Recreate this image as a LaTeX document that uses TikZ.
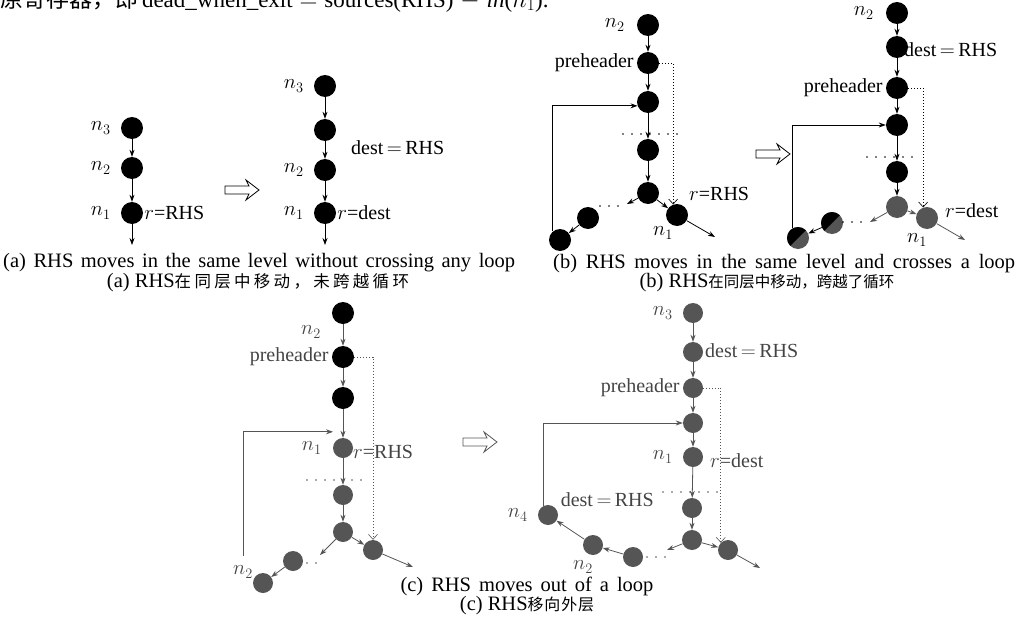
\documentclass[tikz,border=0pt]{standalone}
\usepackage{fontspec}
\setmainfont{Liberation Serif}
\newfontfamily\cjk{Noto Sans CJK SC}
\usepackage{xcolor}
\usetikzlibrary{positioning,arrows.meta,calc}
\definecolor{cGray}{HTML}{555555}
\definecolor{cText}{HTML}{444444}
\newcommand{\lbfont}{\fontsize{20}{23}\selectfont}
\newcommand{\capfont}{\fontsize{20.5}{24}\selectfont}
% chinese caption text, size #1, spacing #2
\newcommand{\zhcap}[3]{{\cjk\fontsize{#1}{18}\selectfont\addfontfeature{LetterSpace=#2}#3}}
% hollow "moves to" arrow, left end at #1
\newcommand{\movesto}[1]{\draw[line width=0.8pt] ($#1+(0,-4)$) -- ++(24,0) -- ++(-3,-6) -- ($#1+(34,0)$) -- ($#1+(21,10)$) -- ($#1+(24,4)$) -- ($#1+(0,4)$) -- cycle;}

\tikzset{
  vtx/.style={circle,fill=black,minimum size=22pt,inner sep=0pt},
  gvtx/.style={vtx,fill=cGray,minimum size=20pt},
  hvtx/.style={vtx,fill=cGray,path picture={\fill[black] (path picture bounding box.north west) -- (path picture bounding box.north east) -- (path picture bounding box.south west) -- cycle;}},
  arr/.style={line width=0.8pt,-{Stealth[length=7pt,width=5pt]}},
  loopback/.style={line width=0.6pt,dash pattern=on 1pt off 2pt,-{Straight Barb[length=5pt,width=9pt]}},
  sepline/.style={line width=1.8pt,line cap=round,dash pattern=on 0pt off 9pt},
  lbl/.style={font=\lbfont,inner sep=1pt},
  captxt/.style={font=\capfont,inner sep=0pt},
}

\begin{document}
\begin{tikzpicture}[x=1pt,y=-1pt]
\useasboundingbox (0,0) rectangle (1018,621);
\node[anchor=base west,inner sep=0pt,font=\fontsize{23}{26}\selectfont] (toptext) at (0,7) {\makebox[522pt][s]{{\cjk 原寄存器，即} dead\_when\_exit$\;=\;$sources(RHS)$\;-\;$\textit{in}($n_1$).}};

% (a) same level, no loop crossed
\node[vtx] (a3) at (132,128) {};
\node[vtx] (a2) at (132,168) {};
\node[vtx] (a1) at (132,213) {};
\coordinate (a0) at (132,245);
\draw[arr] (a3) -- (a2);
\draw[arr] (a2) -- (a1);
\draw[arr] (a1) -- (a0);
\node[lbl,left=9pt of a3] {$n_3$};
\node[lbl,left=9pt of a2] {$n_2$};
\node[lbl,left=9pt of a1] {$n_1$};
\node[lbl,right=0pt of a1] {$r$=RHS};
\movesto{(225,190)}
\node[vtx] (b3) at (325,86) {};
\node[vtx] (bd) at (325,130) {};
\node[vtx] (b2) at (325,170) {};
\node[vtx] (b1) at (325,213) {};
\coordinate (b0) at (325,245);
\draw[arr] (b3) -- (bd);
\draw[arr] (bd) -- (b2);
\draw[arr] (b2) -- (b1);
\draw[arr] (b1) -- (b0);
\node[lbl,left=9pt of b3] {$n_3$};
\node[lbl,left=9pt of b2] {$n_2$};
\node[lbl,left=9pt of b1] {$n_1$};
\node[lbl,anchor=west] at (350,148) {dest$\,=\,$RHS};
\node[lbl,right=0pt of b1] {$r$=dest};
\node[captxt,anchor=west] (capa) at (3,263) {\makebox[512pt][s]{(a) RHS moves in the same level without crossing any loop}};
\node[captxt] (capazh) at (258,283) {(a)\ RHS\zhcap{16.5}{20}{在同层中移动，未跨越循环}};

% (b) same level, loop crossed
\node[vtx] (p1) at (648,25) {};
\node[vtx] (p2) at (648,63) {};
\node[vtx] (p3) at (648,102) {};
\node[vtx] (p4) at (648,150) {};
\node[vtx] (p5) at (648,193) {};
\node[vtx] (k1) at (677,215) {};
\node[vtx] (l1) at (588,218) {};
\node[vtx] (l2) at (560,240) {};
\coordinate (p6) at (627,204);
\coordinate (k0) at (715,237);
\draw[arr] (p1) -- (p2);
\draw[arr] (p2) -- (p3);
\draw[arr] (p3) -- (p4);
\draw[arr] (p4) -- (p5);
\draw[arr] (p5) -- (k1);
\draw[arr] (p5) -- (p6);
\draw[arr] (k1) -- (k0);
\draw[arr] (l1) -- (l2);
\draw[arr] (l2.130) |- (p3.200);   % loop edge
\draw[loopback] (p2.east) -| (k1.110);
\draw[sepline] (623,134) -- (677,134);
\draw[sepline] (600,206) -- (622,206);
\node[lbl,left=11pt of p1] {$n_2$};
\node[lbl,left=2pt of p2] {preheader};
\node[lbl,anchor=west] at (688,194) {$r$=RHS};
\node[lbl] at (663,233) {$n_1$};
\movesto{(756,154)}
\node[vtx] (q1) at (897,13) {};
\node[vtx] (q2) at (897,47) {};
\node[vtx] (q3) at (897,88) {};
\node[vtx] (q4) at (897,125) {};
\node[vtx] (q5) at (897,172) {};
\node[gvtx,minimum size=22pt] (q6) at (897,207) {};
\node[gvtx,minimum size=22pt] (k2) at (927,218) {};
\node[hvtx] (r1) at (832,223) {};
\node[hvtx] (r2) at (798,238) {};
\coordinate (q7) at (870,222);
\coordinate (k3) at (965,240);
\draw[arr] (q1) -- (q2);
\draw[arr] (q2) -- (q3);
\draw[arr] (q3) -- (q4);
\draw[arr] (q4) -- (q5);
\draw[arr] (q5) -- (q6);
\draw[arr,cGray] (q6) -- (k2);
\draw[arr,cGray] (q6) -- (q7);
\draw[arr,cGray] (k2) -- (k3);
\draw[arr] (r1) -- (r2);
\draw[arr] (r2.120) |- (q4.west);   % loop edge
\draw[loopback] (q3.east) -| (k2.110);
\draw[sepline] (867,157) -- (918,157);
\draw[sepline] (843,222) -- (863,222);
\node[lbl,left=11pt of q1] {$n_2$};
\node[lbl,anchor=west] at (903,50) {dest$\,=\,$RHS};
\node[lbl,left=2pt of q3] {preheader};
\node[lbl,anchor=west] at (944,211) {$r$=dest};
\node[lbl] at (917,240) {$n_1$};
\node[captxt,anchor=west] (capb) at (553,264) {\makebox[462pt][s]{(b) RHS moves in the same level and crosses a loop}};
\node[captxt] (capbzh) at (767,283) {(b)\ RHS\zhcap{15.5}{0}{在同层中移动，跨越了循环}};

% (c) out of a loop
\begin{scope}[cGray,text=cText]
\node[vtx] (c1) at (343,313) {};
\node[vtx] (c2) at (343,357) {};
\node[vtx] (c3) at (343,398) {};
\node[gvtx] (c4) at (343,448) {};
\node[gvtx] (c5) at (343,495) {};
\node[gvtx] (c6) at (343,532) {};
\node[gvtx] (e1) at (373,550) {};
\node[gvtx] (f1) at (293,561) {};
\node[gvtx] (f2) at (263,583) {};
\coordinate (c7) at (320,555);
\coordinate (e0) at (413,567);
\coordinate (cl) at (243,556);
\draw[arr] (c1) -- (c2);
\draw[arr] (c2) -- (c3);
\draw[arr] (c3) -- (c4);
\draw[arr] (c4) -- (c5);
\draw[arr] (c5) -- (c6);
\draw[arr] (c6) -- (e1);
\draw[arr] (c6) -- (c7);
\draw[arr] (e1) -- (e0);
\draw[arr] (f1) -- (f2);
\draw[arr] (cl) |- ([xshift=-10pt,yshift=6pt]c4.north);   % loop edge
\draw[loopback] (c2.east) -| (e1.north);
\draw[sepline] (307,480) -- (363,480);
\draw[sepline] (307,563) -- (320,563);
\node[lbl] at (311,332) {$n_2$};
\node[lbl,left=2pt of c2] {preheader};
\node[lbl,left=10pt of c4] {$n_1$};
\node[lbl,anchor=west] at (352,452) {$r$=RHS};
\node[lbl] at (243,572) {$n_2$};
\movesto{(463,442)}
\node[gvtx] (d1) at (693,313) {};
\node[gvtx] (d2) at (693,352) {};
\node[gvtx] (d3) at (693,388) {};
\node[gvtx] (d4) at (693,423) {};
\node[gvtx] (d5) at (693,457) {};
\node[gvtx] (d6) at (692,508) {};
\node[gvtx] (d7) at (692,540) {};
\node[gvtx] (e2) at (728,550) {};
\node[gvtx] (g1) at (633,557) {};
\node[gvtx] (g2) at (593,545) {};
\node[gvtx] (g3) at (548,515) {};
\coordinate (d8) at (667,550);
\coordinate (e3) at (760,568);
\draw[arr] (d1) -- (d2);
\draw[arr] (d2) -- (d3);
\draw[arr] (d3) -- (d4);
\draw[arr] (d4) -- (d5);
\draw[arr] (d5) -- (d6);
\draw[arr] (d6) -- (d7);
\draw[arr] (d7) -- (e2);
\draw[arr] (d7) -- (d8);
\draw[arr] (e2) -- (e3);
\draw[arr] (g1) -- (g2);
\draw[arr] (g2) -- (g3);
\draw[arr] (g3.115) |- (d4.west);   % loop edge
\draw[loopback] (d3.east) -| (e2.135);
\draw[sepline] (663,492) -- (718,492);
\draw[sepline] (647,557) -- (668,557);
\node[lbl,left=9pt of d1] {$n_3$};
\node[lbl,anchor=west] at (704,351) {dest$\,=\,$RHS};
\node[lbl,left=2pt of d3] {preheader};
\node[lbl,left=9pt of d5] {$n_1$};
\node[lbl,anchor=west] at (709,461) {$r$=dest};
\node[lbl,anchor=east] at (655,500) {dest$\,=\,$RHS};
\node[lbl,left=9pt of g3] {$n_4$};
\node[lbl] at (583,567) {$n_2$};
\end{scope}
\node[captxt] (capc) at (527,586) {\makebox[253pt][s]{(c) RHS moves out of a loop}};
\node[captxt] (capczh) at (527,606) {(c)\ RHS\zhcap{16}{5}{移向外层}};
\end{tikzpicture}
\end{document}
